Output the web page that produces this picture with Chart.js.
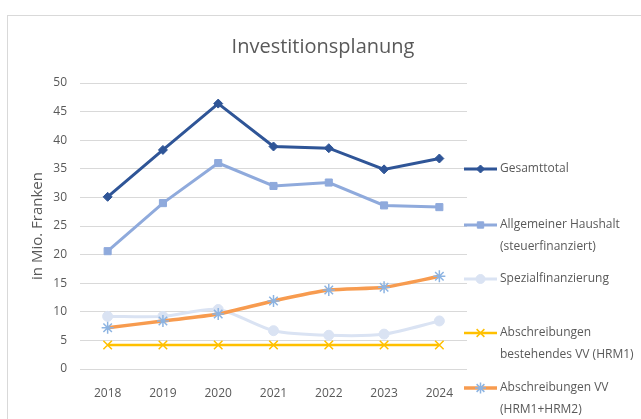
<!DOCTYPE html>
<html>
<head>
<meta charset="utf-8">
<script src="https://cdn.jsdelivr.net/npm/chart.js@4/dist/chart.umd.min.js"></script>
<style>
  body { margin: 0; background: #fff; }
  #wrap { position: relative; width: 641px; height: 419px; }
  #frame { position: absolute; left: 7px; top: 15px; right: 0; bottom: 0;
           border-left: 1px solid #d9d9d9; border-top: 1px solid #d9d9d9; }
  canvas { position: absolute; left: 0; top: 0; }
</style>
</head>
<body>
<div id="wrap">
  <div id="frame"></div>
  <canvas id="investChart" width="641" height="419"></canvas>
</div>
<script>
// Jahre
const years = ['2018', '2019', '2020', '2021', '2022', '2023', '2024']

// Werte in Mio. Franken
const gesamttotal = [30.1, 38.3, 46.4, 38.9, 38.6, 34.9, 36.8]
const allgemeinerHaushalt = [20.6, 29.0, 36.0, 32.0, 32.6, 28.6, 28.3]
const spezialfinanzierung = [9.2, 9.2, 10.4, 6.7, 5.9, 6.1, 8.4]
const abschreibungenBestehend = [4.2, 4.2, 4.2, 4.2, 4.2, 4.2, 4.2]
const abschreibungenVV = [7.2, 8.4, 9.6, 11.9, 13.8, 14.3, 16.2]

const yTicks = [0, 5, 10, 15, 20, 25, 30, 35, 40, 45, 50]

const chartTitle = 'Investitionsplanung'
const seriesLabels = [
  ['Gesamttotal'],
  ['Allgemeiner Haushalt', '(steuerfinanziert)'],
  ['Spezialfinanzierung'],
  ['Abschreibungen', 'bestehendes VV (HRM1)'],
  ['Abschreibungen VV', '(HRM1+HRM2)']
]

const textColor = '#595959'
const fontFamily = "'Open Sans', 'Noto Sans', sans-serif"

function series(i, data, color, width, pStyle, pRadius, tension, pColor) {
  return {
    label: seriesLabels[i].join(' '),
    data: data,
    borderColor: color,
    backgroundColor: pColor || color,
    borderWidth: width,
    pointStyle: pStyle,
    pointRadius: pRadius,
    pointBorderColor: pColor || color,
    pointBackgroundColor: pColor || color,
    pointBorderWidth: pStyle === 'crossRot' || pStyle === 'star' ? 1.5 : 1,
    tension: tension,
    order: 5 - i
  }
}

// title over the whole frame + legend on the right, multi-line labels like Excel
const sideLegend = {
  id: 'sideLegend',
  afterDraw(chart) {
    const ctx = chart.ctx
    const rows = [169, 225, 279, 333, 388]
    ctx.save()
    ctx.fillStyle = textColor
    ctx.font = '20px ' + fontFamily
    ctx.textAlign = 'center'
    ctx.textBaseline = 'middle'
    ctx.fillText(chartTitle, 323, 47)

    chart.data.datasets.forEach((ds, i) => {
      const y = rows[i]
      ctx.strokeStyle = ds.borderColor
      ctx.lineWidth = ds.borderWidth
      ctx.beginPath()
      ctx.moveTo(464, y)
      ctx.lineTo(497, y)
      ctx.stroke()
      ctx.fillStyle = ds.pointBackgroundColor
      ctx.strokeStyle = ds.pointBorderColor
      ctx.lineWidth = ds.pointBorderWidth
      Chart.helpers.drawPoint(ctx, {
        pointStyle: ds.pointStyle,
        radius: ds.pointRadius - 0.5,
        borderWidth: ds.pointBorderWidth,
        rotation: 0
      }, 480.5, y)
      ctx.fillStyle = textColor
      ctx.font = '12px ' + fontFamily
      ctx.textBaseline = 'middle'
      ctx.textAlign = 'left'
      seriesLabels[i].forEach((t, k) => ctx.fillText(t, 500, y + k * 22))
    })
    ctx.restore()
  }
}

new Chart(document.getElementById('investChart'), {
  type: 'line',
  data: {
    labels: years,
    datasets: [
      series(0, gesamttotal, '#2F5597', 3, 'rectRot', 4.5, 0),
      series(1, allgemeinerHaushalt, '#8FAADC', 3, 'rect', 5, 0),
      series(2, spezialfinanzierung, '#DAE3F3', 3, 'circle', 5, 0.25),
      series(3, abschreibungenBestehend, '#FFC000', 2.5, 'crossRot', 6, 0),
      series(4, abschreibungenVV, '#F79B4F', 3.5, 'star', 6, 0.25, '#8DB4E2')
    ]
  },
  options: {
    responsive: false,
    animation: false,
    layout: { padding: { left: 0, right: 174, top: 83, bottom: 0 } },
    plugins: {
      legend: { display: false },
      tooltip: { enabled: false },
      title: { display: false }
    },
    scales: {
      x: {
        offset: true,
        grid: { display: false },
        border: { display: false },
        ticks: { color: textColor, padding: 9, font: { family: fontFamily, size: 12 } },
        afterFit: (scale) => { scale.height = 50 }
      },
      y: {
        min: 0,
        max: 50,
        afterBuildTicks: (scale) => { scale.ticks = yTicks.map(v => ({ value: v })) },
        grid: { color: '#D9D9D9', lineWidth: 1, drawTicks: false },
        border: { display: false },
        ticks: { color: textColor, padding: 13, font: { family: fontFamily, size: 12 } },
        title: {
          display: true,
          text: 'in Mio. Franken',
          color: textColor,
          font: { family: fontFamily, size: 15 },
          padding: { top: 29, bottom: 0 }
        },
        afterFit: (scale) => { scale.width = 80 }
      }
    }
  },
  plugins: [sideLegend]
})
</script>
</body>
</html>
